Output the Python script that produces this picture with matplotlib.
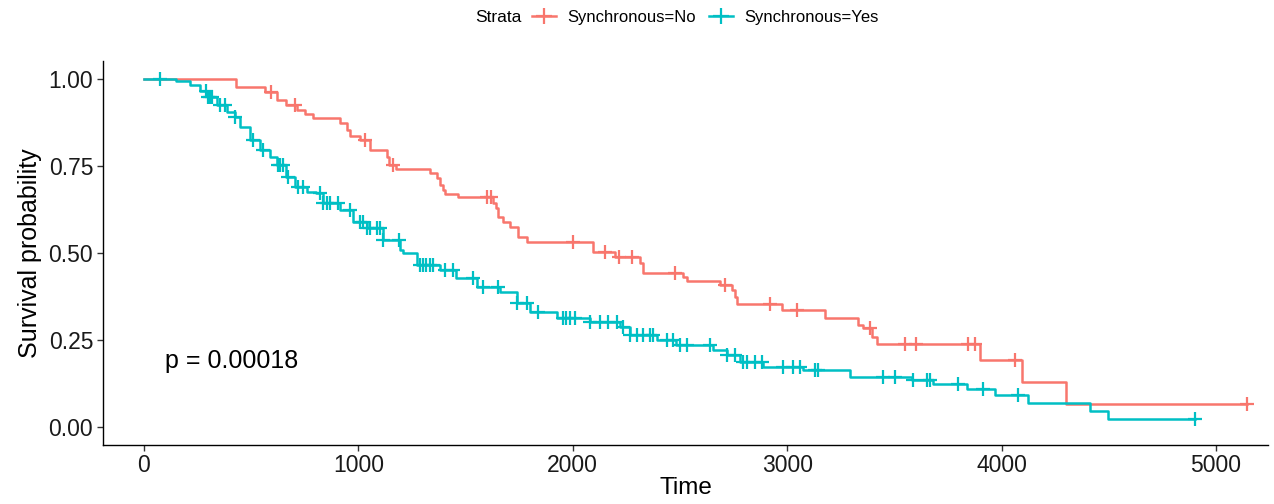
import numpy as np
import matplotlib
matplotlib.use("Agg")
import matplotlib.pyplot as plt
from matplotlib.lines import Line2D

plt.rcParams['font.family'] = ['Liberation Sans', 'DejaVu Sans']

# Kaplan-Meier steps (time, survival after the step)
no_times = [0, 429, 564, 619, 665, 712, 751, 790, 914, 945, 961, 1007, 1054, 1132, 1144,
            1178, 1334, 1365, 1381, 1396, 1404, 1466, 1629, 1644, 1652, 1676, 1707, 1746,
            1785, 2096, 2197, 2313, 2329, 2515, 2531, 2687, 2741, 2757, 2764, 2974, 3176,
            3332, 3355, 3394, 3417, 3899, 4094, 4303]
no_surv = [1.0, 0.976, 0.961, 0.938, 0.925, 0.911, 0.899, 0.887, 0.873, 0.853, 0.836, 0.825,
           0.796, 0.775, 0.753, 0.741, 0.731, 0.715, 0.695, 0.681, 0.670, 0.660, 0.643, 0.628,
           0.603, 0.590, 0.574, 0.547, 0.533, 0.504, 0.489, 0.472, 0.443, 0.432, 0.420, 0.408,
           0.394, 0.374, 0.353, 0.336, 0.312, 0.293, 0.284, 0.260, 0.240, 0.193, 0.130, 0.066]
no_censor = [595, 704, 1031, 1163, 1600, 1620, 2002, 2150, 2217, 2275, 2477, 2710, 2920,
             3044, 3386, 3549, 3601, 3845, 3876, 4062, 5143]

yes_times = [0, 152, 215, 261, 300, 339, 386, 424, 448, 494, 541, 588, 619, 665, 704, 759,
             805, 836, 914, 976, 1039, 1116, 1194, 1209, 1272, 1381, 1458, 1552, 1660, 1738,
             1800, 1925, 2080, 2220, 2267, 2391, 2484, 2655, 2718, 2780, 2889, 3076, 3293,
             3581, 3682, 3837, 3969, 4125, 4412, 4498]
yes_surv = [1.0, 0.995, 0.983, 0.964, 0.949, 0.925, 0.906, 0.892, 0.863, 0.825, 0.796, 0.777,
            0.753, 0.719, 0.690, 0.676, 0.671, 0.643, 0.624, 0.590, 0.571, 0.537, 0.510, 0.499,
            0.466, 0.451, 0.427, 0.403, 0.389, 0.355, 0.331, 0.312, 0.303, 0.288, 0.264, 0.250,
            0.236, 0.221, 0.207, 0.188, 0.173, 0.164, 0.143, 0.135, 0.124, 0.109, 0.092, 0.068,
            0.047, 0.023]
yes_censor = [75, 290, 300, 310, 320, 354, 378, 424, 510, 556, 625, 635, 648, 672, 718, 741,
              821, 836, 852, 868, 905, 961, 1007, 1023, 1039, 1054, 1085, 1100, 1116, 1190,
              1287, 1303, 1318, 1334, 1349, 1404, 1443, 1536, 1583, 1651, 1738, 1785, 1839,
              1955, 1971, 1986, 2010, 2080, 2127, 2166, 2205, 2236, 2267, 2298, 2329, 2360,
              2375, 2438, 2469, 2500, 2531, 2640, 2718, 2757, 2795, 2812, 2850, 2882, 2980,
              3027, 3060, 3130, 3144, 3447, 3503, 3587, 3652, 3666, 3797, 3913, 4078, 4902]

red = '#F8766D'
cyan = '#00BFC4'

fig = plt.figure(figsize=(12.74, 5.04), dpi=100)
ax = fig.add_axes([0.0808, 0.118, 0.9145, 0.760])


def km(ax, times, surv, censor, color):
    t = list(times) + [max(censor)]
    s = list(surv) + [surv[-1]]
    ax.step(t, s, where='post', color=color, lw=1.8, zorder=2)
    idx = np.searchsorted(times, censor, side='right') - 1
    ax.plot(censor, np.array(surv)[idx], ls='none', marker='+', ms=10, mew=1.6,
            color=color, zorder=3)


km(ax, no_times, no_surv, no_censor, red)
km(ax, yes_times, yes_surv, yes_censor, cyan)

ax.set_xlim(-191, 5243)
ax.set_ylim(-0.05, 1.05)
ax.set_xticks([0, 1000, 2000, 3000, 4000, 5000])
ax.set_yticks([0, 0.25, 0.5, 0.75, 1.0])
ax.set_yticklabels(['0.00', '0.25', '0.50', '0.75', '1.00'])
for side in ['top', 'right']:
    ax.spines[side].set_visible(False)
for side in ['left', 'bottom']:
    ax.spines[side].set_linewidth(1.0)
ax.tick_params(length=4, width=1.0, labelsize=16.5, colors='#333333',
               labelcolor='#1a1a1a', pad=3)
ax.set_xlabel('Time', fontsize=17.5, labelpad=0)
ax.set_ylabel('Survival probability', fontsize=18, labelpad=5)

ax.text(100, 0.19, 'p = 0.00018', fontsize=18, ha='left', va='center')

# legend along the top
fig.text(0.373, 0.966, 'Strata', fontsize=12.5, ha='left', va='center')
handles = [Line2D([], [], color=red, lw=1.8, marker='+', ms=11, mew=1.6),
           Line2D([], [], color=cyan, lw=1.8, marker='+', ms=11, mew=1.6)]
fig.legend(handles, ['Synchronous=No', 'Synchronous=Yes'], loc='center left',
           bbox_to_anchor=(0.4176, 0.966), ncol=2, frameon=False, fontsize=12,
           handlelength=1.45, handletextpad=0.65, columnspacing=0.8, borderaxespad=0,
           borderpad=0)

fig.savefig('out.png', dpi=100)
